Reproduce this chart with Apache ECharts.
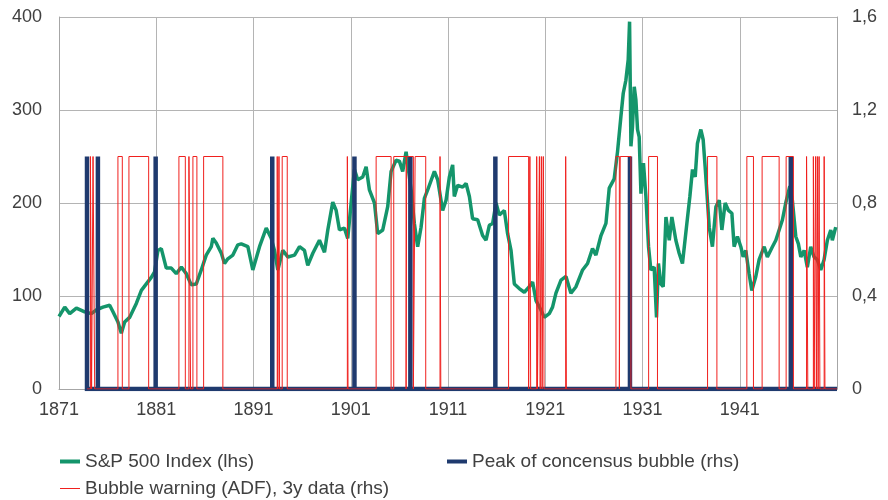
<!DOCTYPE html>
<html>
<head>
<meta charset="utf-8">
<script src="https://cdn.jsdelivr.net/npm/echarts@6/dist/echarts.min.js"></script>
<style>
  html, body { margin: 0; padding: 0; background: #fff; }
  #main { width: 888px; height: 500px; }
</style>
</head>
<body>
<div id="main"></div>
<script>
// S&P 500 index as [year, level]
const spx = [
  [1871.0, 78], [1871.59, 88], [1872.10, 81], [1872.79, 87], [1873.64, 83], [1874.33, 81],
  [1874.84, 85], [1875.52, 88], [1876.21, 90], [1876.55, 83], [1877.06, 72], [1877.41, 60],
  [1877.75, 72], [1878.26, 77], [1878.95, 92], [1879.47, 106], [1879.98, 113], [1880.49, 120],
  [1880.83, 126], [1881.17, 149], [1881.52, 151], [1882.03, 130], [1882.55, 130], [1883.06, 124],
  [1883.58, 131], [1884.09, 124], [1884.60, 112], [1885.12, 113], [1885.63, 128], [1886.14, 144],
  [1886.66, 153], [1886.82, 162], [1887.17, 157], [1887.69, 146], [1888.02, 135], [1888.36, 140],
  [1888.88, 144], [1889.39, 155], [1889.74, 156], [1890.42, 153], [1890.93, 128], [1891.62, 153],
  [1892.31, 173], [1892.82, 162], [1893.16, 149], [1893.50, 128], [1894.01, 149], [1894.53, 142],
  [1895.22, 144], [1895.73, 153], [1896.24, 149], [1896.58, 133], [1897.10, 146], [1897.78, 160],
  [1898.30, 147], [1898.64, 171], [1899.15, 201], [1899.50, 192], [1899.84, 171], [1900.35, 173],
  [1900.69, 162], [1901.04, 200], [1901.38, 236], [1901.72, 225], [1902.23, 228], [1902.58, 239],
  [1902.92, 214], [1903.44, 200], [1903.77, 167], [1904.29, 171], [1904.80, 196], [1905.15, 234],
  [1905.66, 246], [1906.00, 245], [1906.34, 234], [1906.69, 255], [1907.21, 214], [1907.54, 178],
  [1907.88, 153], [1908.23, 174], [1908.57, 205], [1908.91, 214], [1909.60, 234], [1909.94, 225],
  [1910.45, 192], [1910.80, 203], [1911.14, 228], [1911.48, 241], [1911.65, 207], [1911.99, 219],
  [1912.51, 217], [1912.86, 221], [1913.20, 207], [1913.53, 183], [1914.05, 182], [1914.56, 165],
  [1914.91, 160], [1915.25, 176], [1915.59, 178], [1915.94, 200], [1916.28, 187], [1916.79, 192],
  [1917.13, 167], [1917.48, 149], [1917.82, 113], [1918.33, 108], [1918.85, 104], [1919.36, 110],
  [1919.70, 115], [1920.05, 95], [1920.56, 85], [1920.90, 77], [1921.41, 81], [1921.75, 88],
  [1922.10, 103], [1922.62, 117], [1923.13, 121], [1923.64, 103], [1924.16, 110], [1924.84, 128],
  [1925.35, 135], [1925.86, 151], [1926.21, 144], [1926.73, 165], [1927.24, 178], [1927.58, 216],
  [1928.09, 226], [1928.43, 255], [1928.78, 293], [1929.02, 318], [1929.29, 332], [1929.53, 354],
  [1929.67, 395], [1929.81, 261], [1929.97, 282], [1930.15, 325], [1930.32, 311], [1930.49, 279],
  [1930.66, 271], [1930.84, 210], [1931.10, 243], [1931.35, 207], [1931.62, 153], [1931.86, 128],
  [1932.20, 131], [1932.44, 77], [1932.64, 135], [1932.89, 113], [1933.13, 110], [1933.41, 185],
  [1933.75, 160], [1934.02, 185], [1934.43, 160], [1934.77, 146], [1935.11, 135], [1935.52, 174],
  [1935.87, 207], [1936.14, 236], [1936.42, 228], [1936.65, 264], [1937.00, 279], [1937.24, 268],
  [1937.44, 239], [1937.86, 174], [1938.19, 153], [1938.55, 196], [1938.89, 203], [1939.16, 171],
  [1939.50, 200], [1939.84, 192], [1940.19, 189], [1940.42, 153], [1940.76, 164], [1941.11, 153],
  [1941.35, 142], [1941.62, 149], [1941.96, 124], [1942.24, 106], [1942.65, 121], [1942.99, 139],
  [1943.51, 153], [1943.84, 142], [1944.36, 153], [1944.71, 160], [1945.05, 171], [1945.39, 182],
  [1945.73, 200], [1946.15, 218], [1946.41, 203], [1946.76, 164], [1947.03, 156], [1947.28, 142],
  [1947.62, 149], [1947.95, 131], [1948.30, 153], [1948.64, 142], [1948.98, 139], [1949.33, 128],
  [1949.67, 139], [1950.01, 160], [1950.36, 171], [1950.52, 160], [1950.87, 174]
];

// peaks of consensus bubbles (rhs, value 1)
const peakYears = [1873.88, 1875.0, 1880.94, 1892.93, 1901.38, 1907.13, 1915.87, 1929.71, 1946.25];

// ADF bubble warning periods [from, to] (rhs, value 1)
const warnSpans = [
  [1874.23, 1874.35], [1874.50, 1874.67], [1877.06, 1877.51], [1878.19, 1880.22],
  [1883.33, 1883.99], [1884.36, 1884.53], [1884.77, 1885.18], [1885.87, 1887.85],
  [1893.44, 1893.50], [1893.62, 1893.68], [1893.95, 1894.47], [1900.65, 1900.72],
  [1903.61, 1905.15], [1905.42, 1906.69], [1906.75, 1907.44], [1907.62, 1908.71],
  [1910.18, 1910.26], [1917.23, 1919.29], [1919.42, 1919.50], [1920.12, 1920.20],
  [1920.40, 1920.48], [1920.60, 1920.68], [1920.80, 1920.88], [1923.10, 1923.17],
  [1928.27, 1928.62], [1928.71, 1929.81], [1931.63, 1932.54], [1937.69, 1938.65],
  [1941.73, 1942.41], [1943.30, 1945.05], [1945.77, 1946.52], [1947.87, 1948.00],
  [1948.57, 1948.65], [1948.80, 1948.88], [1948.98, 1949.06], [1949.16, 1949.24],
  [1949.68, 1949.76]
];

const signalStart = 1873.88;
const signalEnd = 1951;
const xLabels = [1871, 1881, 1891, 1901, 1911, 1921, 1931, 1941];
const xGrid = [1881, 1891, 1901, 1911, 1921, 1931, 1941];

// build step lines for the 0/1 signals
var peakLine = [[signalStart, 0]];
peakYears.forEach(function (p) {
  peakLine.push([p, 0], [p, 1], [p, 0]);
});
peakLine.push([signalEnd, 0]);

var warnLine = [[signalStart, 0]];
warnSpans.forEach(function (s) {
  warnLine.push([s[0], 0], [s[0], 1], [s[1], 1], [s[1], 0]);
});
warnLine.push([signalEnd, 0]);

var font = "'Liberation Sans', Arial, sans-serif";
var txt = { color: '#404040', fontFamily: font, fontSize: 18 };
var legTxt = { color: '#404040', fontFamily: font, fontSize: 19 };

var myChart = echarts.init(document.getElementById('main'));

const option = {
  animation: false,
  grid: { left: 59, right: 51, top: 17, bottom: 111 },
  legend: [
    { data: ['S&P 500 Index (lhs)'], left: 55, top: 447, icon: 'rect', itemWidth: 20, itemHeight: 4, textStyle: legTxt },
    { data: ['Peak of concensus bubble (rhs)'], left: 442, top: 447, icon: 'rect', itemWidth: 20, itemHeight: 4, textStyle: legTxt },
    { data: ['Bubble warning (ADF), 3y data (rhs)'], left: 55, top: 474, icon: 'rect', itemWidth: 20, itemHeight: 1, textStyle: legTxt }
  ],
  xAxis: {
    type: 'value',
    min: 1871,
    max: 1951,
    axisLine: { show: true, lineStyle: { color: '#a6a6a6', width: 1 } },
    axisTick: { show: false, customValues: xGrid },
    axisLabel: {
      customValues: xLabels,
      margin: 12,
      formatter: function (v) { return String(v); },
      ...txt
    },
    splitLine: { show: true, lineStyle: { color: '#b4b4b4', width: 1 } }
  },
  yAxis: [
    {
      type: 'value',
      min: 0,
      max: 400,
      interval: 100,
      axisLine: { show: true, lineStyle: { color: '#a6a6a6' } },
      axisTick: { show: false },
      axisLabel: { margin: 17, ...txt },
      splitLine: { show: true, lineStyle: { color: '#b4b4b4', width: 1 } }
    },
    {
      type: 'value',
      min: 0,
      max: 1.6,
      interval: 0.4,
      axisLine: { show: true, lineStyle: { color: '#a6a6a6' } },
      axisTick: { show: false },
      axisLabel: {
        margin: 15,
        formatter: function (v) { return String(Math.round(v * 10) / 10).replace('.', ','); },
        ...txt
      },
      splitLine: { show: false }
    }
  ],
  series: [
    {
      name: 'S&P 500 Index (lhs)',
      type: 'line',
      data: spx,
      showSymbol: false,
      lineStyle: { color: '#14956b', width: 3.5 },
      itemStyle: { color: '#14956b' },
      z: 2
    },
    {
      name: 'Peak of concensus bubble (rhs)',
      type: 'line',
      yAxisIndex: 1,
      data: peakLine,
      showSymbol: false,
      lineStyle: { color: '#1f3a6e', width: 4.5, join: 'miter' },
      itemStyle: { color: '#1f3a6e' },
      z: 3
    },
    {
      name: 'Bubble warning (ADF), 3y data (rhs)',
      type: 'line',
      yAxisIndex: 1,
      data: warnLine,
      showSymbol: false,
      lineStyle: { color: '#f0201e', width: 1 },
      itemStyle: { color: '#f0201e' },
      z: 4
    }
  ]
};

myChart.setOption(option, true);
</script>
</body>
</html>
